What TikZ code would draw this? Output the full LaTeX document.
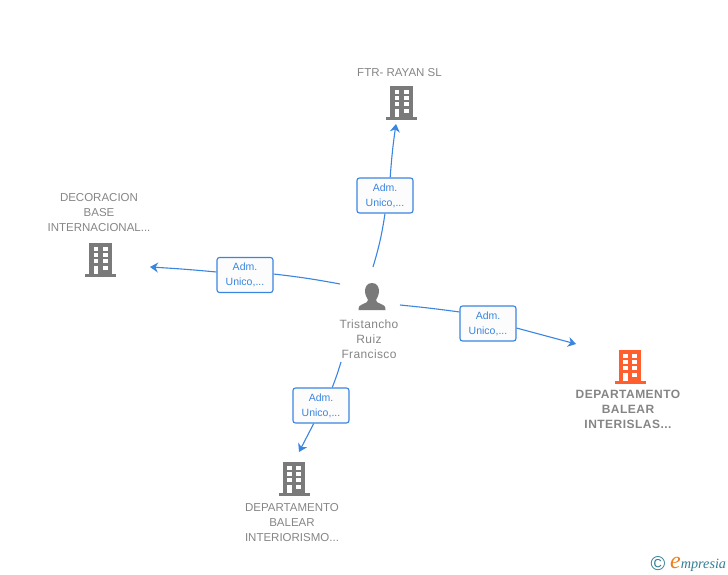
\documentclass[tikz,border=0pt]{standalone}
\usepackage{fontspec}
\setmainfont{Liberation Sans}
\newfontfamily\logofont{Liberation Serif}
\usetikzlibrary{arrows.meta}
\usetikzlibrary{positioning}
\definecolor{linkblue}{HTML}{3A85E0}
\definecolor{labelgray}{HTML}{858585}
\definecolor{icongray}{HTML}{7A7A7A}
\definecolor{mainorange}{HTML}{FF5F2E}
\definecolor{logoorange}{HTML}{EE7F1A}
\definecolor{logoteal}{HTML}{2F7F95}
\tikzset{
	building/.pic={
		\fill[pic actions] (-11.3,-16) rectangle (11.3,15.5);
		\fill[pic actions] (-15.5,15) rectangle (15.5,18);
		\foreach \wy in {-12,-6,0.5}{
			\fill[white] (-7,\wy) rectangle (-2.2,\wy+4);
			\fill[white] (2.2,\wy) rectangle (7,\wy+4);
		}
		\fill[white] (2.2,7) rectangle (7,11);
		\fill[white] (-7,7) rectangle (-2.2,15);
	}
}
\begin{document}
\begin{tikzpicture}[x=1pt,y=-1pt,
			orgname/.style={text=labelgray, align=center, font=\fontsize{11.5}{15}\selectfont, inner sep=0pt},
			personname/.style={text=labelgray, align=center, font=\fontsize{12}{15}\selectfont\addfontfeature{LetterSpace=3}, inner sep=0pt},
			mainname/.style={text=labelgray, align=center, font=\fontsize{12}{15}\selectfont\bfseries\addfontfeature{LetterSpace=4}, inner sep=0pt},
			role/.style={draw=linkblue, line width=1.1pt, rounded corners=2.5pt, fill=black!1, text=linkblue, align=center, minimum width=56pt, minimum height=35pt, inner sep=0pt, font=\fontsize{10.5}{15}\selectfont},
			link/.style={draw=linkblue, line width=1.1pt},
			linkto/.style={link, -{Stealth[length=8pt,width=10pt,inset=2.5pt]}}]
			\useasboundingbox (0,0) rectangle (728,575);
			
			\pic[fill=icongray] at (401.5,102) {building};
			\node[orgname](ftr) at (399.5,73) {FTR- RAYAN SL};
			
			\pic[fill=icongray] at (100.5,258.5) {building};
			\node[orgname](decoracion) at (99,213) {DECORACION\\BASE\\INTERNACIONAL...};
			
			\pic[fill=mainorange] at (630,365.5) {building};
			\node[mainname](interislas) at (628,409) {DEPARTAMENTO\\BALEAR\\INTERISLAS...};
			
			\pic[fill=icongray] at (294,477.5) {building};
			\node[orgname](interiorismo) at (292,523) {DEPARTAMENTO\\BALEAR\\INTERIORISMO...};
			
			% person icon
			\fill[icongray] (372,283) .. controls (367,283) and (365,287) .. (365,291) .. controls (365,295) and (367,298) .. (368,300) .. controls (368,302) and (366,303) .. (363,304) .. controls (360,305) and (358.5,306) .. (358.5,310) -- (385.5,310) .. controls (385.5,306) and (384,305) .. (381,304) .. controls (378,303) and (376,302) .. (376,300) .. controls (377,298) and (379,295) .. (379,291) .. controls (379,287) and (377,283) .. (372,283) -- cycle;
			\node[personname](person) at (369,339.5) {Tristancho\\Ruiz\\Francisco};
			
			\node[role](role1) at (385,195.5) {Adm.\\Unico,...};
			\node[role](role2) at (245,275) {Adm.\\Unico,...};
			\node[role](role3) at (488,323.5) {Adm.\\Unico,...};
			\node[role](role4) at (321,405.5) {Adm.\\Unico,...};
			
			\coordinate (from1) at (373,267);
			\coordinate (to1) at (396,124);
			\coordinate (from2) at (340,284);
			\coordinate (to2) at (150,267);
			\coordinate (from3) at (400,305);
			\coordinate (to3) at (576,344);
			\coordinate (from4) at (341,362);
			\coordinate (to4) at (299,452);
			
			\draw[link] (from1) to[bend right=4] (role1.south);
			\draw[linkto] (role1.74) to[bend left=2] (to1);
			\draw[link] (from2) to[bend right=2] (role2.2);
			\draw[linkto] (role2.174) to[bend right=1] (to2);
			\draw[link] (from3) to[bend left=1] (role3.158);
			\draw[linkto] (role3.-9) to (to3);
			\draw[link] (from4) to[bend left=2] (role4.58);
			\draw[linkto] (role4.248) to (to4);
			
			% logo
			\node[inner sep=0pt, text=logoteal, font=\fontsize{20}{20}\selectfont](copyr) at (658,564) {©};
			\node[inner sep=0pt, anchor=base west, font=\logofont\itshape\fontsize{14.2}{14.2}\selectfont, text=logoteal](logo) at (670,568) {{\color{logoorange}\fontsize{24}{24}\selectfont e}mpresia};
			\end{tikzpicture}
\end{document}
